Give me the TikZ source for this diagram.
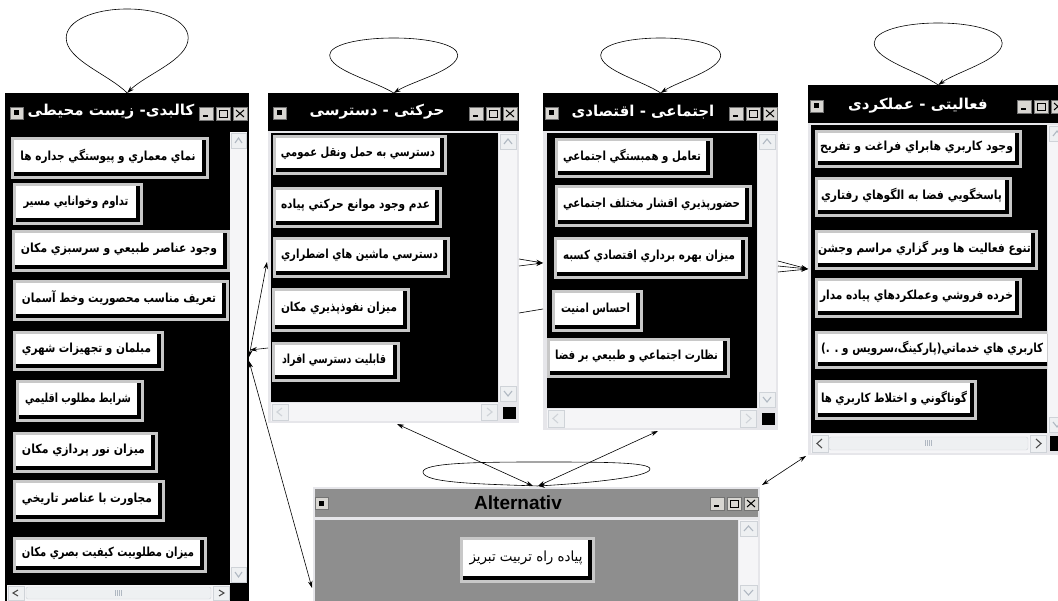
\documentclass[tikz,border=0pt]{standalone}
\usepackage{graphicx}
\usepackage{fontspec}
\setmainfont{Liberation Sans}
\newfontfamily\arabicfont[Script=Arabic]{DejaVu Sans}
\TeXXeTstate=1
\usetikzlibrary{arrows.meta,calc}
\definecolor{btnframe}{HTML}{C8C8C8}
\definecolor{winbg}{HTML}{E6E6EA}
\definecolor{scrollbg}{HTML}{F5F5F7}
\definecolor{altgray}{HTML}{8E8E8E}
\definecolor{ctrlbg}{HTML}{D8D6D2}
\definecolor{sbtnbg}{HTML}{EEF0F2}
\definecolor{sbtnln}{HTML}{CFD3D8}
\definecolor{chevc}{HTML}{B0B8C2}
\newcommand\ar[1]{{\arabicfont\bfseries #1}}
% button: name, x1, y1, x2, y2, text margin, text  (pixel coords, y downwards)
\newcommand\btn[7]{%
  \fill[btnframe] (#2,-#3) rectangle (#4,-#5);
  \fill[black] (#2+3,-#3-3) rectangle (#4-3,-#5+3);
  \fill[white] (#2+3,-#3-3) rectangle (#4-7,-#5+7);
  \pgfmathsetmacro\tw{#4-#2-#6}%
  \node[btntext] (#1) at ({(#2+#4)/2-2},{-(#3+#5)/2+2}) {\resizebox{\tw pt}{\height}{\ar{#7}}};}
% window controls: x (left), y (top)
\newcommand\ctrls[2]{%
  \draw[ctrlbox] (#1,-#2) rectangle (#1+14,-#2-13);
  \draw[line width=1.6pt] (#1+4,-#2-9) -- (#1+9,-#2-9);
  \draw[ctrlbox] (#1+17,-#2) rectangle (#1+31,-#2-13);
  \draw[line width=0.9pt] (#1+20,-#2-3) rectangle (#1+28,-#2-10);
  \draw[ctrlbox] (#1+34,-#2) rectangle (#1+48,-#2-13);
  \draw[line width=1pt] (#1+37,-#2-3) -- (#1+45,-#2-10) (#1+37,-#2-10) -- (#1+45,-#2-3);}
% system menu box: x, y (top-left)
\newcommand\sysbox[2]{%
  \draw[ctrlbox] (#1,-#2) rectangle (#1+13,-#2-12);
  \fill[black] (#1+4,-#2-3.5) rectangle (#1+9,-#2-8.5);}
% vertical scroll bar: x1 y1 x2 y2
\newcommand\vscroll[4]{%
  \fill[scrollbg] (#1,-#2) rectangle (#3,-#4);
  \draw[sbtn] (#1+1,-#2-1) rectangle (#3-1,-#2-16);
  \draw[chev] (#1+5,-#2-11) -- ({(#1+#3)/2},-#2-6) -- (#3-5,-#2-11);
  \draw[sbtn] (#1+1,-#4+1) rectangle (#3-1,-#4+16);
  \draw[chev] (#1+5,-#4+11) -- ({(#1+#3)/2},-#4+6) -- (#3-5,-#4+11);}
% horizontal scroll bar: x1 y1 x2 y2, chevron colour
\newcommand\hscroll[5]{%
  \fill[scrollbg] (#1,-#2) rectangle (#3,-#4);
  \draw[sbtn] (#1+1,-#2-1) rectangle (#1+17,-#4+1);
  \draw[chev,draw=#5] (#1+11,-#2-5) -- (#1+6,{-(#2+#4)/2}) -- (#1+11,-#4+5);
  \draw[sbtn] (#3-17,-#2-1) rectangle (#3-1,-#4+1);
  \draw[chev,draw=#5] (#3-11,-#2-5) -- (#3-6,{-(#2+#4)/2}) -- (#3-11,-#4+5);}
\newcommand\thumb[4]{%
  \draw[sbtnln,fill=sbtnbg,rounded corners=2pt] (#1,-#2) rectangle (#3,-#4);
  \foreach \k in {-3,-1,1,3}{\draw[chevc,line width=0.5pt] ({(#1+#3)/2+\k},{-(#2+#4)/2+3}) -- ++(0,-6);}}
% teardrop self loop: anchor, half width, height, height of widest point
\newcommand\tloop[4]{%
  \draw[arr] (#1) .. controls +({-0.3*#2},{0.22*#3}) and +(0,{-0.4*#4}) .. ($(#1)+(-#2,#4)$)
    .. controls +(0,{0.6*(#3-#4)}) and +({-0.55*#2},0) .. ($(#1)+(0,#3)$)
    .. controls +({0.55*#2},0) and +(0,{0.6*(#3-#4)}) .. ($(#1)+(#2,#4)$)
    .. controls +(0,{-0.4*#4}) and +({0.3*#2},{0.22*#3}) .. (#1);}
\begin{document}
\begin{tikzpicture}[x=1pt,y=1pt,
  conn/.style={draw=black,line width=0.6pt},
  arr/.style={conn,-{Stealth[length=7pt,width=4.5pt]}},
  darr/.style={conn,{Stealth[length=7pt,width=4.5pt]}-{Stealth[length=7pt,width=4.5pt]}},
  btntext/.style={inner sep=0pt,font=\fontsize{12.5}{13}\selectfont},
  wtitle/.style={inner sep=0pt,text=white,font=\fontsize{15}{17}\selectfont},
  ctrlbox/.style={draw=black!55,fill=ctrlbg,line width=0.5pt},
  sbtn/.style={draw=sbtnln,fill=sbtnbg,line width=0.5pt},
  chev/.style={draw=chevc,line width=1.1pt},
  winnode/.style={inner sep=0pt,anchor=north west,draw=none}]
\useasboundingbox (0,0) rectangle (1058,-601);
\clip (0,0) rectangle (1058,-601);
\fill[white] (0,0) rectangle (1058,-601);

% ---------------- window 1 ----------------
\node[winnode,minimum width=244pt,minimum height=508pt] (W1) at (5,-93) {};
\fill[black] (5,-93) rectangle (249,-601);
\sysbox{10}{107}
\node[wtitle] (t1) at (111,-112) {\ar{\beginR کالبدی- زیست محیطی\endR}};
\ctrls{199}{107}
\vscroll{230}{132}{247}{583}
\hscroll{7}{585}{230}{601}{black!70}
\thumb{26}{587}{211}{599}
\btn{b11}{11}{137}{209}{179}{23}{\beginR نماي معماري و پيوستگي جداره ها\endR}
\btn{b12}{13}{183}{143}{225}{25}{\beginR تداوم وخوانايي مسير\endR}
\btn{b13}{12}{230}{230}{272}{22}{\beginR وجود عناصر طبيعي و سرسبزي مكان\endR}
\btn{b14}{13}{280}{229}{321}{22}{\beginR تعريف مناسب محصوريت وخط آسمان\endR}
\btn{b15}{13}{331}{164}{371}{22}{\beginR مبلمان و تجهيزات شهري\endR}
\btn{b16}{16}{380}{144}{422}{22}{\beginR شرايط مطلوب اقليمي\endR}
\btn{b17}{13}{432}{158}{473}{22}{\beginR ميزان نور پردازي مكان\endR}
\btn{b18}{13}{480}{165}{522}{22}{\beginR مجاورت با عناصر تاريخي\endR}
\btn{b19}{13}{537}{207}{573}{22}{\beginR ميزان مطلوبيت كيفيت بصري مكان\endR}

% ---------------- window 2 ----------------
\node[winnode,minimum width=251pt,minimum height=330pt] (W2) at (268,-93) {};
\fill[winbg] (268,-93) rectangle (519,-423);
\fill[black] (268,-93) rectangle (519,-131);
\fill[black] (271,-133) rectangle (498,-402);
\sysbox{273}{107}
\node[wtitle] (t2) at (377,-112) {\ar{\beginR حرکتی - دسترسی\endR}};
\ctrls{469}{107}
\vscroll{499}{133}{517}{402}
\hscroll{271}{403}{498}{421}{sbtnln}
\fill[black] (503,-407) rectangle (516,-419);
\btn{b21}{273}{135}{447}{175}{20}{\beginR دسترسي به حمل ونقل عمومي\endR}
\btn{b22}{273}{187}{442}{228}{20}{\beginR عدم وجود موانع حركتي پياده\endR}
\btn{b23}{273}{237}{450}{278}{20}{\beginR دسترسي ماشين هاي اضطراري\endR}
\btn{b24}{272}{288}{410}{332}{22}{\beginR ميزان نفوذپذيري مكان\endR}
\btn{b25}{272}{342}{400}{382}{24}{\beginR قابليت دسترسي افراد\endR}

% ---------------- window 3 ----------------
\node[winnode,minimum width=235pt,minimum height=337pt] (W3) at (543,-93) {};
\fill[winbg] (543,-93) rectangle (778,-430);
\fill[black] (543,-93) rectangle (778,-131);
\fill[black] (547,-133) rectangle (757,-408);
\sysbox{545}{107}
\node[wtitle] (t3) at (643,-112) {\ar{\beginR اجتماعی - اقتصادی\endR}};
\ctrls{729}{107}
\vscroll{758}{133}{776}{408}
\hscroll{547}{409}{757}{428}{sbtnln}
\fill[black] (762,-413) rectangle (775,-425);
\btn{b31}{555}{138}{713}{178}{20}{\beginR تعامل و همبستگي اجتماعي\endR}
\btn{b32}{555}{185}{752}{227}{20}{\beginR حضورپذيري اقشار مختلف اجتماعي\endR}
\btn{b33}{554}{237}{748}{279}{22}{\beginR ميزان بهره برداري اقتصادي كسبه\endR}
\btn{b34}{552}{290}{643}{332}{22}{\beginR احساس امنيت\endR}
\btn{b35}{547}{338}{730}{378}{20}{\beginR نظارت اجتماعي و طبيعي بر فضا\endR}

% ---------------- window 4 ----------------
\node[winnode,minimum width=260pt,minimum height=370pt] (W4) at (808,-85) {};
\fill[winbg] (808,-85) rectangle (1068,-455);
\fill[black] (808,-85) rectangle (1068,-123);
\fill[black] (811,-125) rectangle (1047,-433);
\sysbox{810}{100}
\node[wtitle] (t4) at (918,-106) {\ar{\beginR فعالیتی - عملکردی\endR}};
\ctrls{1017}{100}
\vscroll{1048}{125}{1066}{433}
\hscroll{811}{434}{1047}{453}{black!70}
\thumb{829}{437}{1028}{450}
\fill[black] (1050,-436) rectangle (1064,-451);
\btn{b41}{815}{130}{1022}{168}{14}{\beginR وجود كاربري هابراي فراغت و تفريح\endR}
\btn{b42}{815}{177}{1012}{217}{16}{\beginR پاسخگويي فضا به الگوهاي رفتاري\endR}
\btn{b43}{815}{230}{1038}{270}{10}{\beginR تنوع فعاليت ها وبر گزاري مراسم وجشن\endR}
\btn{b44}{815}{278}{1022}{318}{14}{\beginR خرده فروشي وعملكردهاي پياده مدار\endR}
\begin{scope}
  \clip (811,-125) rectangle (1047,-433);
  \fill[btnframe] (815,-331) rectangle (1080,-369);
  \fill[black] (818,-334) rectangle (1077,-366);
  \fill[white] (818,-334) rectangle (1073,-362);
\end{scope}
\node[btntext,anchor=west] (b45) at (821,-348) {\resizebox{222pt}{\height}{\ar{\beginR كاربري هاي خدماتي(پاركينگ،سرويس و . .)\endR}}};
\btn{b46}{815}{380}{977}{420}{16}{\beginR گوناگوني و اختلاط كاربري ها\endR}

% ---------------- window 5 (Alternativ) ----------------
\node[winnode,minimum width=447pt,minimum height=114pt] (W5) at (313,-487) {};
\fill[winbg] (313,-487) rectangle (760,-601);
\fill[altgray] (315,-489) rectangle (758,-517);
\fill[altgray] (315,-520) rectangle (738,-601);
\sysbox{315}{497}
\node[inner sep=0pt,font=\bfseries\fontsize{19}{21}\selectfont] (t5) at (518,-503) {Alternativ};
\ctrls{710}{497}
\vscroll{739}{520}{758}{601}
\fill[btnframe] (460,-537) rectangle (595,-583);
\fill[black] (463,-540) rectangle (592,-580);
\fill[white] (463,-540) rectangle (588,-576);
\node[inner sep=0pt,font=\fontsize{14}{15}\selectfont] (b51) at (526,-558) {\resizebox{113pt}{\height}{\arabicfont\beginR پياده راه تربيت تبريز\endR}};

% ---------------- connector end points ----------------
\coordinate (w1a) at (249,-357);
\coordinate (w1b) at (250,-350);
\coordinate (w1c) at (249,-361);
\coordinate (w2a) at (267,-262);
\coordinate (w2b) at (268,-348);
\coordinate (w2c) at (519,-266);
\coordinate (w2d) at (519,-259);
\coordinate (w2e) at (519,-313);
\coordinate (w2f) at (397,-424);
\coordinate (w3a) at (543,-263);
\coordinate (w3b) at (543,-309);
\coordinate (w3c) at (778,-261);
\coordinate (w3d) at (778,-266);
\coordinate (w3e) at (778,-272);
\coordinate (w3f) at (658,-431);
\coordinate (w4a) at (808,-269);
\coordinate (w4b) at (806,-456);
\coordinate (w5a) at (312,-588);
\coordinate (w5b) at (533,-486);
\coordinate (w5c) at (538,-486);
\coordinate (w5d) at (762,-485);

% ---------------- self loops ----------------
\tloop{W1.north}{61}{84}{55}
\tloop{W2.north}{64}{55}{38}
\tloop{W3.north}{60}{55}{38}
\tloop{W4.north}{64}{62}{42}
\draw[arr] (w5c) .. controls (480,-484) and (423,-483) .. (423,-472)
  .. controls (423,-463) and (475,-462) .. (537,-462)
  .. controls (600,-462) and (650,-462) .. (650,-469)
  .. controls (650,-477) and (590,-483) .. (w5c);

% ---------------- connectors ----------------
\draw[darr] (w1a) -- (w2a);
\draw[arr] (w2b) -- (w1b);
\draw[darr] (w1c) -- (w5a);
\draw[arr] (w2c) -- (w3a);
\draw[arr] (w2d) -- (w3a);
\draw[conn] (w2e) -- (w3b);
\draw[arr] (w3c) -- (w4a);
\draw[arr] (w3d) -- (w4a);
\draw[arr] (w3e) -- (w4a);
\draw[darr] (w4b) -- (w5d);
\draw[darr] (w2f) -- (w5b);
\draw[darr] (w3f) -- (w5c);
\end{tikzpicture}
\end{document}
